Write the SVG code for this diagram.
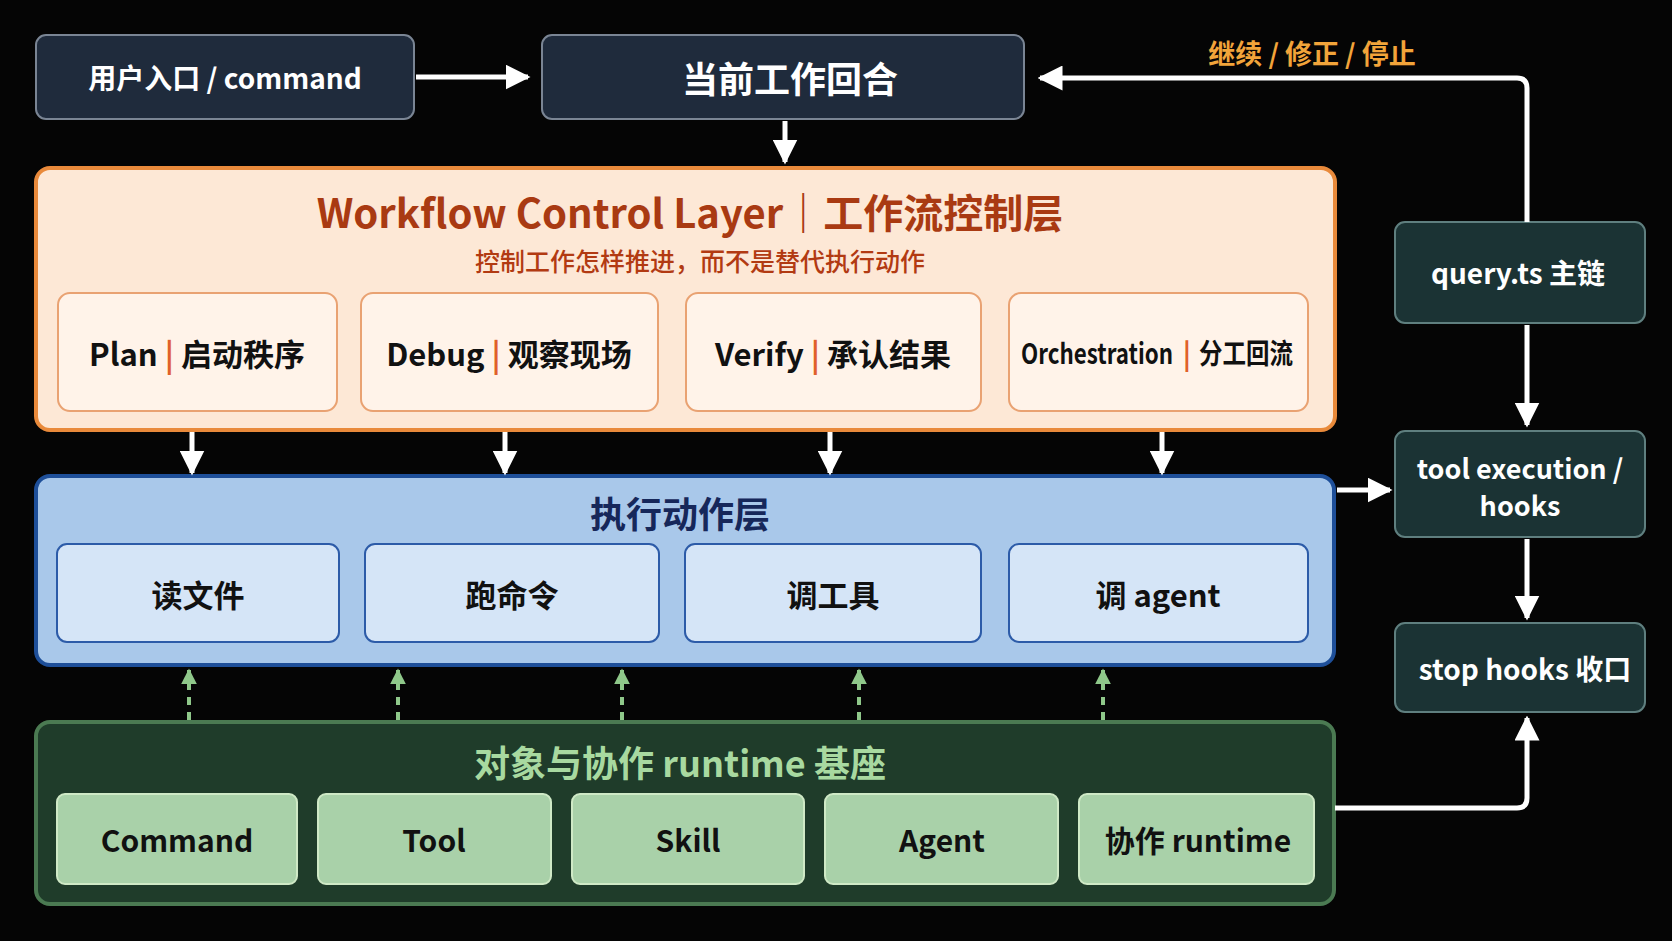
<svg xmlns="http://www.w3.org/2000/svg" width="1672" height="941" viewBox="0 0 1672 941">
<defs>
<marker id="ah" viewBox="0 0 10 10" refX="9" refY="5" markerWidth="5" markerHeight="5" orient="auto"><path d="M0,0 L10,5 L0,10 z" fill="#fff"/></marker>
<marker id="ag" viewBox="0 0 10 10" refX="9" refY="5" markerWidth="4" markerHeight="4" orient="auto"><path d="M0,0 L10,5 L0,10 z" fill="#8fc88a"/></marker>
<style>
text{font-family:"Noto Sans CJK SC","Noto Sans",sans-serif;font-weight:700;text-anchor:middle;dominant-baseline:central}
.dk{fill:#1f2b3c;stroke:#7a8594;stroke-width:2}
.rt{fill:#1b3334;stroke:#5f7f7f;stroke-width:2}
.w{fill:#fff;font-size:28px}
.or{fill:#fff3e9;stroke:#e9a272;stroke-width:2}
.bl{fill:#d5e5f7;stroke:#2c5ba8;stroke-width:2}
.gr{fill:#a9d1a9;stroke:#cfe9c6;stroke-width:2}
.k{fill:#111;font-size:31px}
.con{stroke:#fff;stroke-width:5;fill:none;marker-end:url(#ah)}
.dash{stroke:#8fc88a;stroke-width:4;stroke-dasharray:8 7;fill:none;marker-end:url(#ag)}
</style>
</defs>
<rect width="1672" height="941" fill="#050505"/>
<g id="entry"><rect class="dk" x="36" y="35" width="378" height="84" rx="10"/><text class="w" x="225" y="77">用户入口 / command</text></g>
<g id="turn"><rect class="dk" x="542" y="35" width="482" height="84" rx="10"/><text class="w" x="790" y="77" style="font-size:36px">当前工作回合</text></g>
<text x="1312" y="52" style="fill:#f2a43a;font-size:27px">继续 / 修正 / 停止</text>
<g id="workflow">
<rect x="36" y="168" width="1299" height="262" rx="14" fill="#fde8d6" stroke="#e98a3b" stroke-width="4"/>
<text x="690" y="211" style="fill:#a93a12;font-size:40px">Workflow Control Layer｜工作流控制层</text>
<text x="700" y="260" style="fill:#b23a12;font-size:25px;font-weight:500">控制工作怎样推进，而不是替代执行动作</text>
</g>
<g id="plan"><rect class="or" x="58" y="293" width="279" height="118" rx="12"/><text class="k" x="197" y="352">Plan <tspan fill="#e0602a">|</tspan> 启动秩序</text></g>
<g id="debug"><rect class="or" x="361" y="293" width="297" height="118" rx="12"/><text class="k" x="509" y="352">Debug <tspan fill="#e0602a">|</tspan> 观察现场</text></g>
<g id="verify"><rect class="or" x="686" y="293" width="295" height="118" rx="12"/><text class="k" x="833" y="352">Verify <tspan fill="#e0602a">|</tspan> 承认结果</text></g>
<g id="orch"><rect class="or" x="1009" y="293" width="299" height="118" rx="12"/>
<text class="k" x="1097" y="352" style="font-size:28px" textLength="152" lengthAdjust="spacingAndGlyphs">Orchestration</text>
<text x="1187" y="352" style="fill:#e0602a;font-size:28px">|</text>
<text class="k" x="1246" y="352" style="font-size:28px" textLength="94" lengthAdjust="spacingAndGlyphs">分工回流</text></g>
<g id="exec">
<rect x="36" y="476" width="1298" height="189" rx="14" fill="#a9c8ea" stroke="#1e4f99" stroke-width="4"/>
<text x="680" y="512" style="fill:#16275a;font-size:36px">执行动作层</text>
</g>
<g id="read"><rect class="bl" x="57" y="544" width="282" height="98" rx="10"/><text class="k" x="198" y="593">读文件</text></g>
<g id="run"><rect class="bl" x="365" y="544" width="294" height="98" rx="10"/><text class="k" x="512" y="593">跑命令</text></g>
<g id="calltool"><rect class="bl" x="685" y="544" width="296" height="98" rx="10"/><text class="k" x="833" y="593">调工具</text></g>
<g id="callagent"><rect class="bl" x="1009" y="544" width="299" height="98" rx="10"/><text class="k" x="1158" y="593">调 agent</text></g>
<g id="runtime">
<rect x="36" y="722" width="1298" height="182" rx="14" fill="#1f3c2a" stroke="#4b7a52" stroke-width="4"/>
<text x="680" y="761" style="fill:#a8d9a0;font-size:36px">对象与协作 runtime 基座</text>
</g>
<g id="command"><rect class="gr" x="57" y="794" width="240" height="90" rx="8"/><text class="k" x="177" y="839" style="font-size:30px">Command</text></g>
<g id="tool"><rect class="gr" x="318" y="794" width="233" height="90" rx="8"/><text class="k" x="434" y="839" style="font-size:30px">Tool</text></g>
<g id="skill"><rect class="gr" x="572" y="794" width="232" height="90" rx="8"/><text class="k" x="688" y="839" style="font-size:30px">Skill</text></g>
<g id="agent"><rect class="gr" x="825" y="794" width="233" height="90" rx="8"/><text class="k" x="942" y="839" style="font-size:30px">Agent</text></g>
<g id="collab"><rect class="gr" x="1079" y="794" width="235" height="90" rx="8"/><text class="k" x="1198" y="839" style="font-size:30px">协作 runtime</text></g>
<g id="query"><rect class="rt" x="1395" y="222" width="250" height="101" rx="10"/><text class="w" x="1518" y="272">query.ts 主链</text></g>
<g id="toolexec"><rect class="rt" x="1395" y="431" width="250" height="106" rx="10"/><text class="w" x="1520" y="467" style="font-size:27px">tool execution /</text><text class="w" x="1520" y="504" style="font-size:27px">hooks</text></g>
<g id="stophooks"><rect class="rt" x="1395" y="623" width="250" height="89" rx="10"/><text class="w" x="1525" y="668">stop hooks 收口</text></g>
<g id="connectors">
<path class="con" d="M416,77 L528,77"/>
<path class="con" d="M1527,222 L1527,88 Q1527,78 1517,78 L1040,78"/>
<path class="con" d="M785,121 L785,162"/>
<path class="con" d="M192,432 L192,473"/>
<path class="con" d="M505,432 L505,473"/>
<path class="con" d="M830,432 L830,473"/>
<path class="con" d="M1162,432 L1162,473"/>
<path class="con" d="M1527,325 L1527,425"/>
<path class="con" d="M1527,539 L1527,618"/>
<path class="con" d="M1337,490 L1390,490"/>
<path class="con" d="M1335,808 L1517,808 Q1527,808 1527,798 L1527,718"/>
<path class="dash" d="M189,720 L189,670"/>
<path class="dash" d="M398,720 L398,670"/>
<path class="dash" d="M622,720 L622,670"/>
<path class="dash" d="M859,720 L859,670"/>
<path class="dash" d="M1103,720 L1103,670"/>
</g>
</svg>
